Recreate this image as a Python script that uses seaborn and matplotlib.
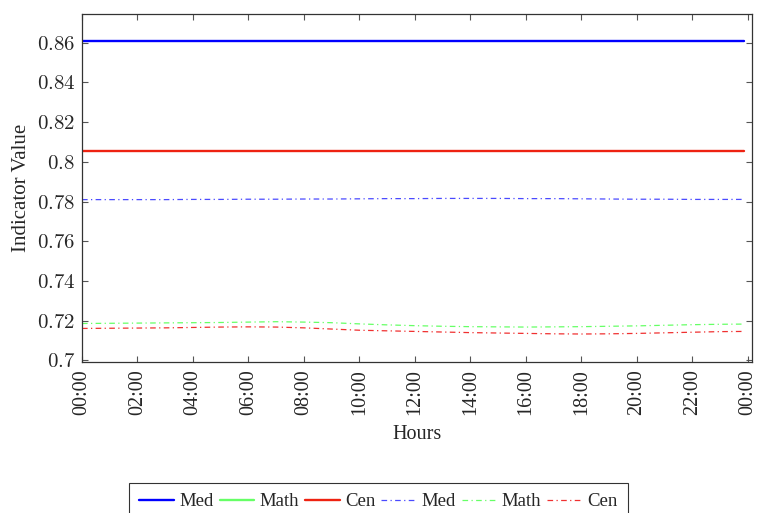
import numpy as np
import pandas as pd
import matplotlib
matplotlib.use("Agg")
import matplotlib.pyplot as plt
from matplotlib.lines import Line2D
import seaborn as sns

# ---- data ----
hours = [0, 1, 2, 3, 4, 5, 6, 7, 8, 9, 10, 11, 12, 13, 14, 15, 16, 17, 18, 19, 20, 21, 22, 23, 23.85]
med_solid = [0.861] * len(hours)
cen_solid = [0.8055] * len(hours)
med_dash = [0.7810, 0.7810, 0.7810, 0.7810, 0.7811, 0.7811, 0.7812, 0.7812, 0.7813, 0.7813,
            0.7814, 0.7815, 0.7815, 0.7816, 0.7816, 0.7816, 0.7815, 0.7815, 0.7814, 0.7813,
            0.7812, 0.7812, 0.7811, 0.7811, 0.7811]
math_dash = [0.7186, 0.7187, 0.7188, 0.7189, 0.7190, 0.7191, 0.7193, 0.7195, 0.7193, 0.7190,
             0.7184, 0.7179, 0.7175, 0.7172, 0.7170, 0.7169, 0.7168, 0.7169, 0.7170, 0.7172,
             0.7174, 0.7177, 0.7180, 0.7182, 0.7183]
cen_dash = [0.7161, 0.7162, 0.7163, 0.7164, 0.7166, 0.7168, 0.7169, 0.7168, 0.7164, 0.7158,
            0.7152, 0.7149, 0.7146, 0.7143, 0.7140, 0.7138, 0.7136, 0.7134, 0.7133, 0.7134,
            0.7136, 0.7139, 0.7142, 0.7145, 0.7146]
x_ticks = list(range(0, 25, 2))
x_tick_labels = ["00:00", "02:00", "04:00", "06:00", "08:00", "10:00", "12:00",
                 "14:00", "16:00", "18:00", "20:00", "22:00", "00:00"]
y_ticks = [0.70, 0.72, 0.74, 0.76, 0.78, 0.80, 0.82, 0.84, 0.86]
y_tick_labels = ["0.7", "0.72", "0.74", "0.76", "0.78", "0.8", "0.82", "0.84", "0.86"]
legend_labels = ["Med", "Math", "Cen", "Med", "Math", "Cen"]

sns.set_theme(style="white")
plt.rcParams["font.family"] = ["Liberation Serif", "DejaVu Serif"]
plt.rcParams["mathtext.fontset"] = "cm"

fig = plt.figure(figsize=(7.57, 5.13), dpi=100)
ax = fig.add_axes([82 / 757, 1 - 362 / 513, (752 - 82) / 757, (362 - 14) / 513])

dash_dot = (0, (4.5, 2.7, 1.0, 2.7))
blue, green, red = "#0000ff", "#66ff66", "#ee2211"

sns.lineplot(x=hours, y=med_solid, ax=ax, color=blue, linewidth=1.7)
sns.lineplot(x=hours, y=cen_solid, ax=ax, color=red, linewidth=1.7)
sns.lineplot(x=hours, y=med_dash, ax=ax, color="#4a4aff", linewidth=0.9, linestyle=dash_dot)
sns.lineplot(x=hours, y=math_dash, ax=ax, color=green, linewidth=0.9, linestyle=dash_dot)
sns.lineplot(x=hours, y=cen_dash, ax=ax, color="#f03030", linewidth=0.9, linestyle=dash_dot)

ax.set_xlim(0, 24.15)
ax.set_ylim(0.6992, 0.8745)
ax.set_xticks(x_ticks)
ax.set_xticklabels(x_tick_labels, rotation=90, fontsize=14.5)
ax.set_yticks(y_ticks)
ax.set_yticklabels(["$" + s + "$" for s in y_tick_labels], fontsize=15)
ax.tick_params(direction="in", length=4, width=0.8, color="#555555", top=True, right=True,
               bottom=True, left=True, labeltop=False, labelright=False, pad=5)
for sp in ax.spines.values():
    sp.set_color("#333333")
    sp.set_linewidth(0.9)

ax.set_xlabel("Hours", fontsize=14.5, labelpad=7)
ax.set_ylabel("Indicator Value", fontsize=15, labelpad=4)

handles = [
    Line2D([], [], color=blue, linewidth=1.7),
    Line2D([], [], color=green, linewidth=1.7),
    Line2D([], [], color=red, linewidth=1.7),
    Line2D([], [], color="#4a4aff", linewidth=0.9, linestyle=dash_dot),
    Line2D([], [], color=green, linewidth=0.9, linestyle=dash_dot),
    Line2D([], [], color="#f03030", linewidth=0.9, linestyle=dash_dot),
]
leg = fig.legend(handles, legend_labels, loc="upper center", bbox_to_anchor=(0.5, 1 - 483 / 513),
                 ncol=6, frameon=True, fancybox=False, edgecolor="black", fontsize=13.5,
                 handlelength=1.85, handletextpad=0.3, columnspacing=0.3, borderpad=0.55,
                 borderaxespad=0)
leg.get_frame().set_linewidth(0.8)

fig.savefig("out.png", dpi=100)
